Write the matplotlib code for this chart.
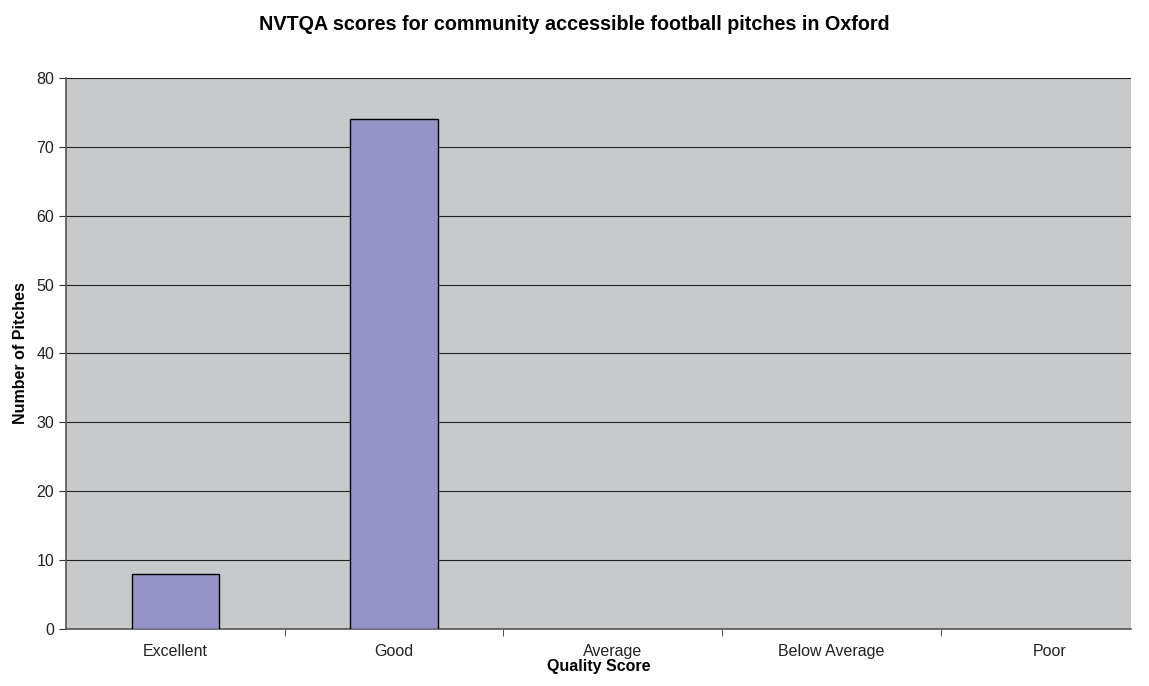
import matplotlib
matplotlib.use("Agg")
import matplotlib.pyplot as plt

# data
categories = ["Excellent", "Good", "Average", "Below Average", "Poor"]
pitches = [8, 74, 0, 0, 0]
y_ticks = [0, 10, 20, 30, 40, 50, 60, 70, 80]

plt.rcParams['font.family'] = ['Liberation Sans', 'DejaVu Sans']

fig = plt.figure(figsize=(11.49, 6.86), dpi=100)
ax = fig.add_axes([0.0574, 0.0831, 0.9269, 0.8032])

ax.set_facecolor("#C8C9CB")
x = list(range(len(categories)))
# no outline on empty bars so nothing shows on the baseline
edges = [1 if v else 0 for v in pitches]
ax.bar(x, pitches, width=0.40, color="#9494C8", edgecolor="black", linewidth=edges, zorder=3)

# the original picture is cropped a little on the right
ax.set_xlim(-0.5, len(categories) - 0.63)
ax.set_ylim(0, 80)
ax.set_yticks(y_ticks)
ax.yaxis.grid(True, color="#222222", linewidth=0.8, zorder=1)

# category labels centred, tick marks at the boundaries
ax.set_xticks(x)
ax.set_xticklabels(categories, fontsize=11.5, color="#222222")
ax.tick_params(axis="x", length=0, pad=11)
ax.set_xticks([i + 0.5 for i in x[:-1]], minor=True)
ax.tick_params(axis="x", which="minor", length=5, direction="out", color="#333333")
ax.tick_params(axis="y", length=5, direction="out", color="#333333", labelsize=11.5, labelcolor="#222222")

for side in ["top", "right"]:
    ax.spines[side].set_visible(False)
for side in ["left", "bottom"]:
    ax.spines[side].set_color("#555555")
    ax.spines[side].set_linewidth(1.2)

ax.set_xlabel("Quality Score", fontsize=11.5, fontweight="bold", labelpad=0)
ax.set_ylabel("Number of Pitches", fontsize=11.5, fontweight="bold", labelpad=6)
fig.suptitle("NVTQA scores for community accessible football pitches in Oxford",
             fontsize=14.2, fontweight="bold", y=0.978)

fig.savefig("out.png", dpi=100)
